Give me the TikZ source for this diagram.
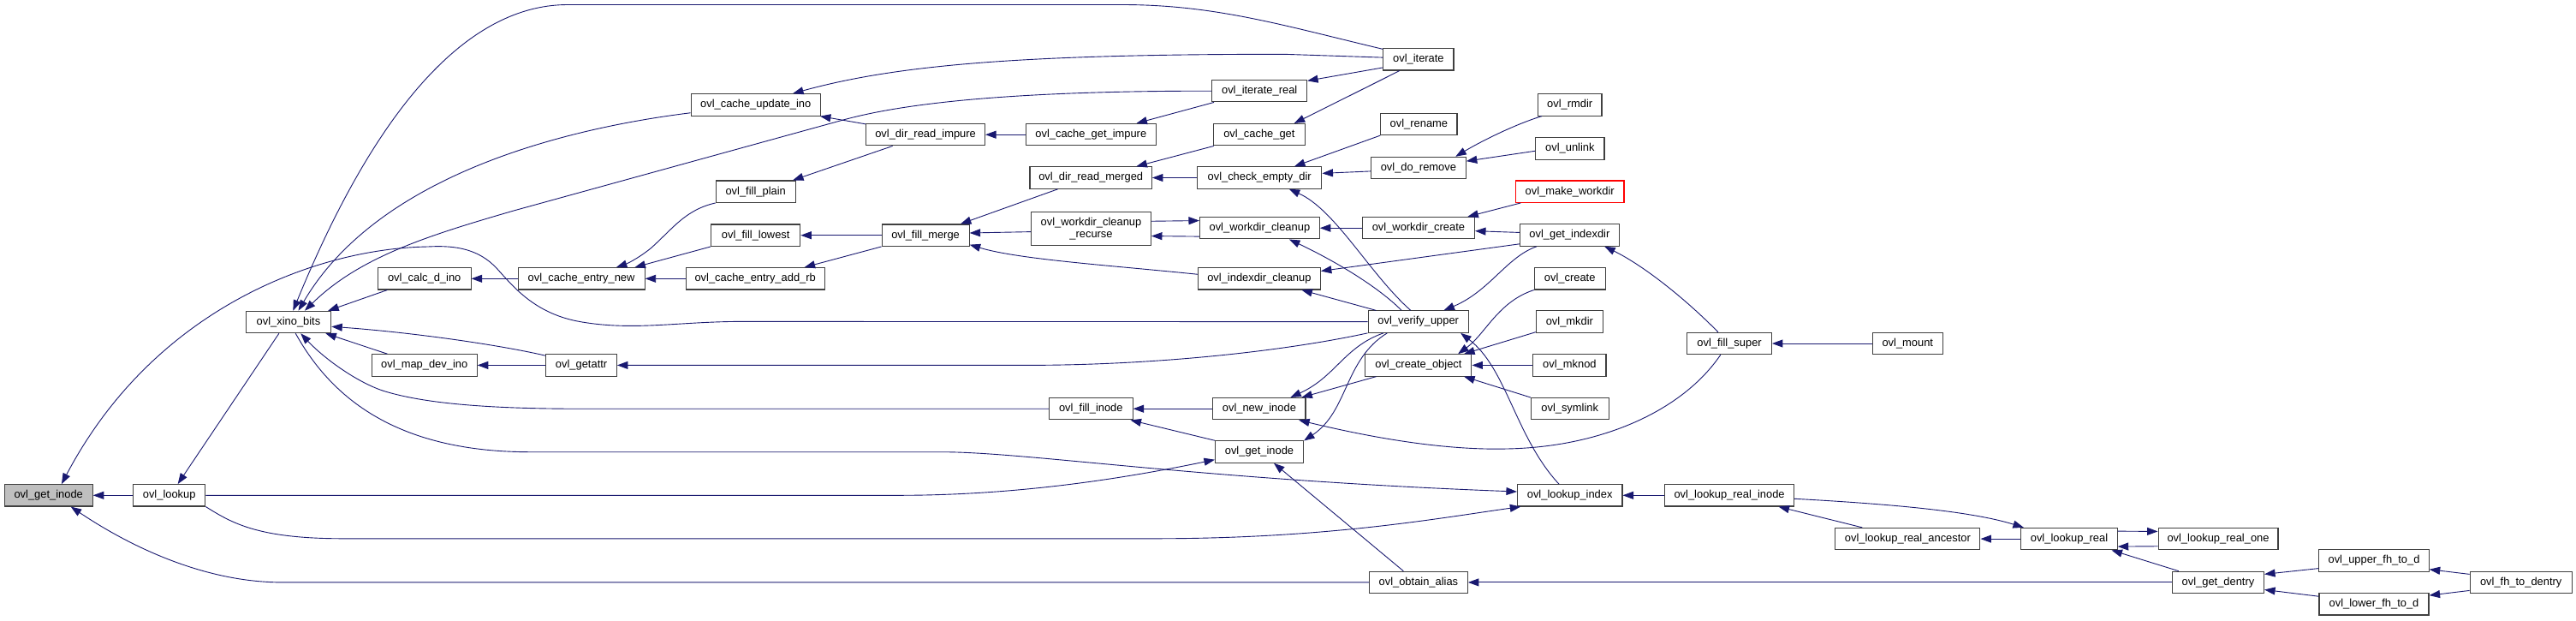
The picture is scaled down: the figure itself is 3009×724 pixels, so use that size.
\documentclass[tikz,border=0pt]{standalone}
\usepackage{fontspec}
\setmainfont{Liberation Sans}
\usetikzlibrary{arrows.meta}
\definecolor{edgec}{HTML}{191970}
\definecolor{boxc}{HTML}{404040}
\definecolor{rootc}{HTML}{BFBFBF}
\tikzset{
  fn/.style={rectangle, draw=boxc, line width=1.1pt, fill=white, inner sep=0pt,
    minimum height=25.4pt, font=\fontsize{12.9}{14}\selectfont},
  rootfn/.style={fn, fill=rootc},
  redfn/.style={fn, draw=red},
  e/.style={draw=edgec, line width=0.9pt, -{Triangle[length=12.5pt,width=9pt]}},
}
\begin{document}
\begin{tikzpicture}[x=1pt,y=-1pt]
\fill[white] (0,0) rectangle (3009,724);
\useasboundingbox (0,0) rectangle (3009,724);
% nodes
\node[rootfn, minimum width=103pt] (gi) at (56.7,578.3) {ovl\_get\_inode};
\node[fn, minimum width=84.2pt] (lk) at (197.7,578.3) {ovl\_lookup};
\node[fn, minimum width=99.4pt] (xb) at (337,376) {ovl\_xino\_bits};
\node[fn, minimum width=108.7pt] (cdi) at (495.7,325.3) {ovl\_calc\_d\_ino};
\node[fn, minimum width=148pt] (cen) at (679.1,325.3) {ovl\_cache\_entry\_new};
\node[fn, minimum width=123pt] (mdi) at (495.7,426.4) {ovl\_map\_dev\_ino};
\node[fn, minimum width=82.6pt] (ga) at (679.1,426.4) {ovl\_getattr};
\node[fn, minimum width=151pt] (cui) at (882.7,122.4) {ovl\_cache\_update\_ino};
\node[fn, minimum width=138.8pt] (dri) at (1081.1,157.2) {ovl\_dir\_read\_impure};
\node[fn, minimum width=151.5pt] (cgi) at (1274.3,157.2) {ovl\_cache\_get\_impure};
\node[fn, minimum width=110.7pt] (itr) at (1471.2,106.2) {ovl\_iterate\_real};
\node[fn, minimum width=107.2pt] (cg) at (1470.9,157.2) {ovl\_cache\_get};
\node[fn, minimum width=142.4pt] (drm) at (1274.2,207.5) {ovl\_dir\_read\_merged};
\node[fn, minimum width=145.4pt] (ced) at (1471.2,207.5) {ovl\_check\_empty\_dir};
\node[fn, minimum width=92.9pt] (fp) at (882.7,223.7) {ovl\_fill\_plain};
\node[fn, minimum width=104.1pt] (fl) at (882.7,274.7) {ovl\_fill\_lowest};
\node[fn, minimum width=102pt] (fm) at (1081.1,274.7) {ovl\_fill\_merge};
\node[fn, minimum width=139.8pt, minimum height=39.7pt, align=center] (wcr) at (1274.5,266.9) {ovl\_workdir\_cleanup\\\_recurse};
\node[fn, minimum width=139.8pt] (wc) at (1471.4,266.2) {ovl\_workdir\_cleanup};
\node[fn, minimum width=162.3pt] (ceab) at (882.2,325.3) {ovl\_cache\_entry\_add\_rb};
\node[fn, minimum width=142.8pt] (idc) at (1470.9,325.3) {ovl\_indexdir\_cleanup};
\node[fn, minimum width=97.5pt] (fi) at (1274.3,477.2) {ovl\_fill\_inode};
\node[fn, minimum width=108.2pt] (ni) at (1470.9,477.2) {ovl\_new\_inode};
\node[fn, minimum width=103pt] (gi2) at (1471,527.5) {ovl\_get\_inode};
\node[fn, minimum width=82.2pt] (it) at (1656.9,69.3) {ovl\_iterate};
\node[fn, minimum width=89.2pt] (ren) at (1657.4,145.2) {ovl\_rename};
\node[fn, minimum width=110.7pt] (dr) at (1656.9,196) {ovl\_do\_remove};
\node[fn, minimum width=74.5pt] (rmd) at (1833.7,122.4) {ovl\_rmdir};
\node[fn, minimum width=80.1pt] (unl) at (1833.9,173.4) {ovl\_unlink};
\node[redfn, minimum width=126.6pt] (mw) at (1833.7,223.7) {ovl\_make\_workdir};
\node[fn, minimum width=131.1pt] (wcreate) at (1656.9,266.2) {ovl\_workdir\_create};
\node[fn, minimum width=115.8pt] (gix) at (1833.4,274.5) {ovl\_get\_indexdir};
\node[fn, minimum width=82.7pt] (cr) at (1833.7,325.3) {ovl\_create};
\node[fn, minimum width=117.3pt] (vu) at (1656.7,375.6) {ovl\_verify\_upper};
\node[fn, minimum width=78pt] (mkd) at (1833.4,375.6) {ovl\_mkdir};
\node[fn, minimum width=98.5pt] (fs) at (2020.1,401) {ovl\_fill\_super};
\node[fn, minimum width=82.2pt] (mnt) at (2228.3,401) {ovl\_mount};
\node[fn, minimum width=124pt] (co) at (1656.9,426.4) {ovl\_create\_object};
\node[fn, minimum width=85.2pt] (mkn) at (1833.4,426.4) {ovl\_mknod};
\node[fn, minimum width=90.8pt] (sym) at (1833.7,477.2) {ovl\_symlink};
\node[fn, minimum width=122.5pt] (li) at (1833.7,578.3) {ovl\_lookup\_index};
\node[fn, minimum width=150.5pt] (lri) at (2020.1,578.3) {ovl\_lookup\_real\_inode};
\node[fn, minimum width=169pt] (lra) at (2228.4,629.1) {ovl\_lookup\_real\_ancestor};
\node[fn, minimum width=114.8pt] (oa) at (1656.9,679.9) {ovl\_obtain\_alias};
\node[fn, minimum width=112.3pt] (lr) at (2417,629.1) {ovl\_lookup\_real};
\node[fn, minimum width=139.9pt] (lro) at (2591,629.1) {ovl\_lookup\_real\_one};
\node[fn, minimum width=107pt] (gd) at (2591,679.9) {ovl\_get\_dentry};
\node[fn, minimum width=128.3pt] (ufh) at (2773,654.5) {ovl\_upper\_fh\_to\_d};
\node[fn, minimum width=128pt] (lfh) at (2773,705.3) {ovl\_lower\_fh\_to\_d};
\node[fn, minimum width=119pt] (fhd) at (2944.7,679.9) {ovl\_fh\_to\_dentry};
% edges
\draw[e] (vu.west) -- (860,375.4) .. controls (790,376) and (740,386) .. (680,376) .. controls (625,367) and (600,335) .. (580,313) .. controls (560,292) and (535,286) .. (500,288) .. controls (370,290) and (180,360) .. (gi.41);
\draw[e] (lk.west) -- (gi.east);
\draw[e] (oa.west) -- (330,679.9) .. controls (230,679.9) and (140,630) .. (gi.-27);
\draw[e] (xb.-130) -- (lk.53);
\draw[e] (it.164) .. controls (1500,30) and (1420,5.5) .. (1311,5.5) -- (663,5.5) .. controls (560,5.5) and (450,100) .. (xb.68);
\draw[e] (cui.187) .. controls (700,145) and (450,190) .. (xb.49);
\draw[e] (itr.west) .. controls (1150,106) and (1040,125) .. (985,140) -- (600,246) .. controls (500,275) and (420,300) .. (xb.35);
\draw[e] (cdi.-163) -- (xb.16);
\draw[e] (cen.west) -- (cdi.east);
\draw[e] (fp.south west) .. controls (800,245) and (785,268) .. (760,290) .. controls (745,302) and (732,308) .. (cen.18);
\draw[e] (fl.south west) -- (cen.12);
\draw[e] (ceab.west) -- (cen.east);
\draw[e] (ga.165) .. controls (580,402) and (480,388) .. (xb.-6);
\draw[e] (mdi.163) -- (xb.-17);
\draw[e] (ga.west) -- (mdi.east);
\draw[e] (vu.south west) .. controls (1500,410) and (1350,426.4) .. (1200,426.4) -- (ga.east);
\draw[e] (fi.west) -- (700,477.2) .. controls (580,478) and (500,472) .. (450,457) .. controls (420,448) and (380,420) .. (xb.-43);
\draw[e] (xb.-58) .. controls (390,470) and (470,527.7) .. (620,527.7) -- (1100,527.7) .. controls (1200,527.7) and (1400,560) .. (li.176);
\draw[e] (lk.east) -- (1050,578.3) .. controls (1200,578.3) and (1330,555) .. (gi2.-170);
\draw[e] (lk.south east) .. controls (270,610) and (300,628.8) .. (400,628.8) -- (1350,628.8) .. controls (1550,628.8) and (1680,605) .. (li.-167);
\draw[e] (li.134) .. controls (1770,510) and (1760,430) .. (vu.-15);
\draw[e] (ced.west) -- (drm.east);
\draw[e] (cg.-166) -- (drm.14);
\draw[e] (it.-167) -- (itr.12);
\draw[e] (it.-149) .. controls (1590,105) and (1550,125) .. (cg.18);
\draw[e] (it.177) -- (1500,63.3) .. controls (1200,63.3) and (1050,75) .. (cui.17);
\draw[e] (dri.170) -- (cui.-10);
\draw[e] (cgi.west) -- (dri.east);
\draw[e] (itr.-166) -- (cgi.14);
\draw[e] (dri.-161) -- (fp.17);
\draw[e] (fm.west) -- (fl.east);
\draw[e] (fm.south west) -- (ceab.13);
\draw[e] (drm.-161) -- (fm.18);
\draw[e] (wcr.183) -- (fm.3);
\draw[e] (idc.176) .. controls (1300,310) and (1190,303) .. (fm.-12);
\draw[e] (wcr.7) -- (wc.173);
\draw[e] (wc.188) -- (wcr.-7);
\draw[e] (ren.-164) -- (ced.18);
\draw[e] (dr.184) -- (ced.4);
\draw[e] (vu.124) .. controls (1600,320) and (1560,245) .. (ced.-21);
\draw[e] (wcreate.west) -- (wc.east);
\draw[e] (vu.146) .. controls (1610,335) and (1560,305) .. (wc.-21);
\draw[e] (gix.190) -- (idc.7);
\draw[e] (vu.165) -- (idc.-15);
\draw[e] (mw.-167) -- (wcreate.13);
\draw[e] (gix.177) -- (wcreate.-3);
\draw[e] (fs.135) .. controls (1970,350) and (1920,310) .. (gix.-18);
\draw[e] (gix.-161) .. controls (1760,300) and (1740,340) .. (vu.24);
\draw[e] (rmd.-158) .. controls (1770,145) and (1730,165) .. (dr.17);
\draw[e] (unl.184) -- (dr.8);
\draw[e] (mnt.west) -- (fs.east);
\draw[e] (cr.south west) .. controls (1750,352) and (1735,390) .. (co.16);
\draw[e] (mkd.-163) -- (co.14);
\draw[e] (mkn.west) -- (co.east);
\draw[e] (sym.north west) -- (co.-14);
\draw[e] (vu.-162) .. controls (1570,405) and (1560,440) .. (ni.20);
\draw[e] (co.-165) -- (ni.15);
\draw[e] (fs.-128) .. controls (1965,480) and (1870,522) .. (1760,524) .. controls (1680,526) and (1590,508) .. (ni.-16);
\draw[e] (vu.-160) .. controls (1570,420) and (1575,480) .. (gi2.14);
\draw[e] (ni.west) -- (fi.east);
\draw[e] (gi2.north west) -- (fi.-16);
\draw[e] (oa.143) -- (gi2.-38);
\draw[e] (lri.west) -- (li.east);
\draw[e] (lra.166) -- (lri.-13);
\draw[e] (lr.west) -- (lra.east);
\draw[e] (lri.-3) .. controls (2200,588) and (2300,596) .. (lr.166);
\draw[e] (lr.9) -- (lro.173);
\draw[e] (lro.187) -- (lr.-9);
\draw[e] (gd.164) -- (lr.-15);
\draw[e] (gd.west) -- (oa.east);
\draw[e] (ufh.188) -- (gd.10);
\draw[e] (lfh.172) -- (gd.-9);
\draw[e] (fhd.171) -- (ufh.-9);
\draw[e] (fhd.189) -- (lfh.9);
\end{tikzpicture}
\end{document}
